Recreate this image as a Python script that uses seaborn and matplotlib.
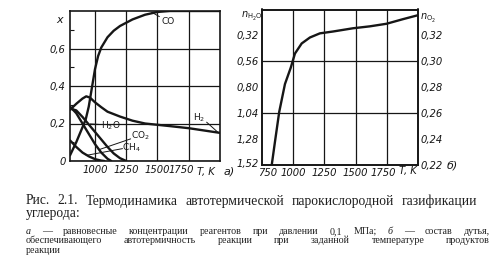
import matplotlib
matplotlib.use("Agg")
import matplotlib.pyplot as plt
import matplotlib.transforms as mtrans
import seaborn as sns
import pandas as pd

sns.set_theme(style="white")
plt.rcParams['font.family'] = ['DejaVu Sans']
plt.rcParams['mathtext.fontset'] = 'dejavusans'

INK = "#161616"
NARROW = ["Liberation Sans Narrow", "DejaVu Sans"]

# ---------------- data: panel a) equilibrium mole fractions ----------------
T_co = [800, 850, 900, 925, 950, 975, 1000, 1025, 1050, 1100, 1150, 1200, 1300, 1400, 1500, 1600, 1800, 2000]
x_co = [0.03, 0.10, 0.18, 0.22, 0.29, 0.39, 0.49, 0.56, 0.605, 0.66, 0.695, 0.72, 0.755, 0.78, 0.795, 0.80, 0.80, 0.80]

T_h2 = [800, 850, 900, 930, 960, 1000, 1050, 1100, 1200, 1300, 1400, 1500, 1600, 1750, 1900, 2000]
x_h2 = [0.273, 0.305, 0.333, 0.345, 0.338, 0.313, 0.287, 0.263, 0.237, 0.215, 0.200, 0.193, 0.186, 0.175, 0.160, 0.150]

T_h2o = [800, 850, 900, 950, 1000, 1050, 1100, 1150, 1200, 1250]
x_h2o = [0.280, 0.270, 0.235, 0.195, 0.155, 0.115, 0.075, 0.040, 0.015, 0.0]

T_co2 = [800, 850, 900, 950, 1000, 1050, 1100, 1130]
x_co2 = [0.290, 0.255, 0.200, 0.145, 0.090, 0.045, 0.012, 0.0]

T_ch4 = [800, 850, 900, 950, 1000, 1050, 1075]
x_ch4 = [0.110, 0.075, 0.045, 0.025, 0.010, 0.002, 0.0]

# ---------------- data: panel б) blast composition ----------------
T_b = [828, 854, 888, 934, 980, 1014, 1068, 1134, 1214, 1318, 1478, 1614, 1748, 1878, 2000]
n_o2 = [0.220, 0.238, 0.261, 0.2825, 0.295, 0.306, 0.3138, 0.3184, 0.3216, 0.323, 0.3255, 0.327, 0.329, 0.3325, 0.3356]

xt = [1000, 1250, 1500, 1750]
xt_lab = ["1000", "1250", "1500", "1750"]
ya_t = [0, 0.2, 0.4, 0.6]
ya_lab = ["0", "0,2", "0,4", "0,6"]
yh2o_t = [0.32, 0.56, 0.80, 1.04, 1.28, 1.52]
yh2o_lab = ["0,32", "0,56", "0,80", "1,04", "1,28", "1,52"]
yo2_t = [0.22, 0.24, 0.26, 0.28, 0.30, 0.32]
yo2_lab = ["0,22", "0,24", "0,26", "0,28", "0,30", "0,32"]
xb_t = [750, 1000, 1250, 1500, 1750]
xb_lab = ["750", "1000", "1250", "1500", "1750"]

W, H = 502, 269
fig = plt.figure(figsize=(W / 100, H / 100), dpi=100)
fig.patch.set_facecolor("white")


def fx(px):
    return px / W


def fy(py):
    return 1 - py / H


axL = fig.add_axes([fx(70), fy(161), 150 / W, 150 / H])
axR = fig.add_axes([fx(262), fy(165), 156 / W, 155.5 / H])

LW = 1.7
for T, v in [(T_co, x_co), (T_h2, x_h2), (T_h2o, x_h2o), (T_co2, x_co2), (T_ch4, x_ch4)]:
    sns.lineplot(x=T, y=v, ax=axL, color=INK, lw=LW, estimator=None, sort=False)

axL.set_xlim(800, 2000)
axL.set_ylim(0, 0.8)
axL.set_xticks(xt)
axL.set_xticklabels(xt_lab)
axL.set_yticks(ya_t)
axL.set_yticklabels(ya_lab)
axL.set_yticks([0.1, 0.3, 0.5, 0.7], minor=True)
axL.grid(True, which="major", color=INK, lw=0.9)
axL.tick_params(which="major", length=0, pad=3, labelsize=7.2, colors=INK)
axL.tick_params(which="minor", axis="y", direction="in", length=3, width=0.8, left=True, color=INK)

# panel б
axR2 = axR.twinx()
sns.lineplot(x=T_b, y=n_o2, ax=axR2, color=INK, lw=LW, estimator=None, sort=False)
axR.set_xlim(750, 2000)
axR.set_ylim(1.52, 0.08)
axR2.set_ylim(0.22, 0.34)
axR.set_xticks(xb_t)
axR.set_xticklabels(xb_lab)
axR.set_yticks(yh2o_t)
axR.set_yticklabels(yh2o_lab)
axR2.set_yticks(yo2_t)
axR2.set_yticklabels(yo2_lab)
axR.grid(False)
axR2.grid(False)
for xv in xt:
    axR.axvline(xv, color=INK, lw=0.9, zorder=0)
for yv in [0.56, 1.04]:
    axR.axhline(yv, color=INK, lw=0.9, zorder=0)
axR.tick_params(length=0, pad=2, labelsize=7.2, colors=INK)
axR2.tick_params(length=0, pad=2, labelsize=7.2, colors=INK)
axR2.set_yticks([0.24, 0.28, 0.32], minor=True)
axR2.tick_params(which="minor", axis="y", direction="inout", length=4, width=0.8, right=True, color=INK)

for ax in (axL, axR, axR2):
    ax.set_xlabel("")
    ax.set_ylabel("")
    ax.set_facecolor("none")
    for s in ax.spines.values():
        s.set_color(INK)
        s.set_linewidth(1.2)
        s.set_visible(True)
    for t in ax.get_xticklabels() + ax.get_yticklabels():
        t.set_fontstyle("italic")
        t.set_family(NARROW)


def nudge(lab, dx, dy=0):
    lab.set_transform(lab.get_transform() + mtrans.ScaledTranslation(dx / 100, dy / 100, fig.dpi_scale_trans))


# nudge labels as in the print
nudge(axL.get_xticklabels()[-1], -7)
nudge(axR.get_xticklabels()[-1], -4)
nudge(axR.get_xticklabels()[0], 6)
nudge(axR.get_yticklabels()[-1], 0, 2)

# axis captions and panel letters
fig.text(fx(60), fy(20), "x", fontsize=8, style="italic", ha="center", va="center", color=INK)
fig.text(fx(252), fy(16), r"$n_{\mathrm{H_2O}}$", fontsize=7, ha="center", va="center", color=INK)
fig.text(fx(428), fy(18), r"$n_{\mathrm{O_2}}$", fontsize=7, ha="center", va="center", color=INK)
fig.text(fx(206), fy(172), "T, K", fontsize=7.2, family=NARROW, style="italic", ha="center", va="center", color=INK)
fig.text(fx(408), fy(171), "T, K", fontsize=7.2, family=NARROW, style="italic", ha="center", va="center", color=INK)
fig.text(fx(229), fy(172), "a)", fontsize=8, style="italic", ha="center", va="center", color=INK)
fig.text(fx(452), fy(166), "б)", fontsize=8, style="italic", ha="center", va="center", color=INK)

# curve labels with leaders
lab_kw = dict(fontsize=6.5, color=INK, ha="center", va="center")
axL.text(1585, 0.745, "CO", **lab_kw)
axL.plot([1515, 1455], [0.77, 0.793], color=INK, lw=0.7)
axL.text(1836, 0.232, r"H$_2$", **lab_kw)
axL.plot([1893, 1985], [0.207, 0.152], color=INK, lw=0.7)
axL.text(1125, 0.19, r"H$_2$O", **lab_kw)
axL.plot([1035, 962], [0.195, 0.198], color=INK, lw=0.7)
axL.text(1365, 0.132, r"CO$_2$", **lab_kw)
axL.plot([1285, 1030], [0.118, 0.06], color=INK, lw=0.7)
axL.text(1290, 0.072, r"CH$_4$", **lab_kw)
axL.plot([1220, 930], [0.066, 0.03], color=INK, lw=0.7)

# ---------------- caption ----------------
fig.canvas.draw()
rend = fig.canvas.get_renderer()
SERIF = ["Liberation Serif", "DejaVu Serif"]


def justify(words, x0, x1, base, size):
    objs = []
    widths = []
    for w, st in words:
        t = fig.text(0, 0, w, fontsize=size, family=SERIF, style=st, color="#202020", va="baseline", ha="left")
        widths.append(t.get_window_extent(rend).width)
        objs.append(t)
    gap = (x1 - x0 - sum(widths)) / max(len(words) - 1, 1)
    x = x0
    for t, wd in zip(objs, widths):
        t.set_position((fx(x), fy(base)))
        x += wd + gap


def words(s, italic=()):
    return [(w, "italic" if w in italic else "normal") for w in s.split(" ")]


justify(words("Рис. 2.1. Термодинамика автотермической парокислородной газификации"), 26, 477, 204.5, 9.8)
fig.text(fx(26), fy(217.5), "углерода:", fontsize=9.8, family=SERIF, color="#202020", va="baseline")
justify(words("а — равновесные концентрации реагентов при давлении 0,1 МПа; б — состав дутья,", italic=("а", "б")),
        26, 490, 234, 7.2)
justify(words("обеспечивающего автотермичность реакции при заданной температуре продуктов"), 26, 490, 243.3, 7.2)
fig.text(fx(26), fy(252.6), "реакции", fontsize=7.2, family=SERIF, color="#202020", va="baseline")

fig.savefig("out.png", dpi=100, facecolor="white")
